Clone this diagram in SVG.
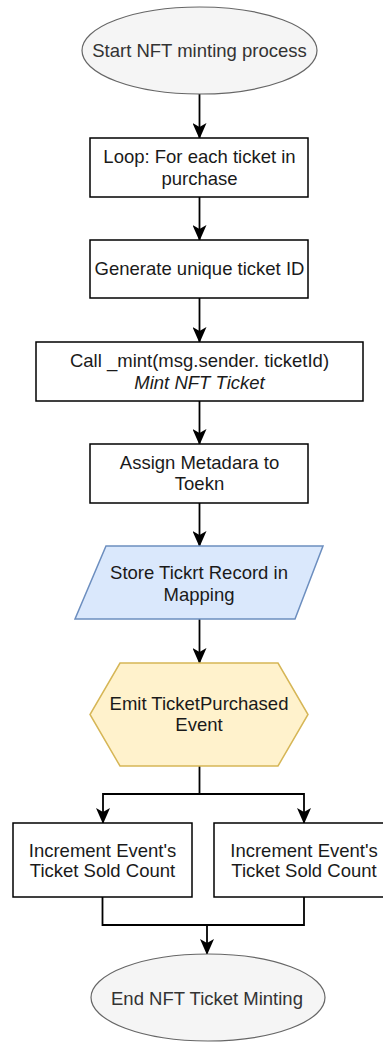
<svg xmlns="http://www.w3.org/2000/svg" width="383" height="1042" viewBox="0 0 383 1042">
<defs>
<style>
.box{fill:#ffffff;stroke:#000000;stroke-width:1.5}
.term{fill:#f5f5f5;stroke:#666666;stroke-width:1.2}
.io{fill:#dae8fc;stroke:#6c8ebf;stroke-width:1.5}
.hex{fill:#fff2cc;stroke:#d6b656;stroke-width:1.5}
.t{font-family:"Liberation Sans",Arial,sans-serif;font-size:18.5px;fill:#1a1a1a;text-anchor:middle}
.tg{fill:#333333}
.it{font-style:italic}
.edge{fill:none;stroke:#000000;stroke-width:1.8}
</style>
<marker id="arr" viewBox="0 0 16 14" refX="15" refY="7" markerWidth="16" markerHeight="14" markerUnits="userSpaceOnUse" orient="auto">
<path d="M0,0 L16,7 L0,14 L4,7 Z" fill="#000000"/>
</marker>
</defs>
<g id="connectors">
<path class="edge" d="M199.5,94 V138" marker-end="url(#arr)"/>
<path class="edge" d="M199.5,197 V240" marker-end="url(#arr)"/>
<path class="edge" d="M199.5,298 V342" marker-end="url(#arr)"/>
<path class="edge" d="M199.5,401 V444" marker-end="url(#arr)"/>
<path class="edge" d="M199.5,503 V546" marker-end="url(#arr)"/>
<path class="edge" d="M199.5,619 V663" marker-end="url(#arr)"/>
<path class="edge" d="M199.5,766 V794 H103 V823" marker-end="url(#arr)"/>
<path class="edge" d="M199.5,794 H304 V823" marker-end="url(#arr)"/>
<path class="edge" d="M102.5,897 V925 H304 V897"/>
<path class="edge" d="M207,925 V954" marker-end="url(#arr)"/>
</g>
<g id="start">
<ellipse class="term" cx="199.5" cy="50.5" rx="117.5" ry="43.5"/>
<text class="t tg" x="199.5" y="57">Start NFT minting process</text>
</g>
<g id="loop">
<rect class="box" x="90" y="138" width="218" height="59"/>
<text class="t" x="199.5" y="163">Loop: For each ticket in</text>
<text class="t" x="199.5" y="185">purchase</text>
</g>
<g id="generate">
<rect class="box" x="90" y="240" width="218" height="58"/>
<text class="t" x="199.5" y="274.5">Generate unique ticket ID</text>
</g>
<g id="mint">
<rect class="box" x="36" y="342" width="327" height="59"/>
<text class="t" x="199.5" y="366.5">Call _mint(msg.sender. ticketId)</text>
<text class="t it" x="199.5" y="388.5">Mint NFT Ticket</text>
</g>
<g id="metadata">
<rect class="box" x="90" y="444" width="218" height="59"/>
<text class="t" x="199.5" y="468.5">Assign Metadara to</text>
<text class="t" x="199.5" y="490">Toekn</text>
</g>
<g id="store">
<polygon class="io" points="106,546 323,546 295,619 75,619"/>
<text class="t" x="199" y="578.5">Store Tickrt Record in</text>
<text class="t" x="199" y="600.5">Mapping</text>
</g>
<g id="emit">
<polygon class="hex" points="120,663 278,663 308,714.5 278,766 120,766 90,714.5"/>
<text class="t" x="199" y="709.5">Emit TicketPurchased</text>
<text class="t" x="199" y="730.5">Event</text>
</g>
<g id="incLeft">
<rect class="box" x="13" y="823" width="179" height="74"/>
<text class="t" x="102.5" y="856.5">Increment Event's</text>
<text class="t" x="102.5" y="877">Ticket Sold Count</text>
</g>
<g id="incRight">
<rect class="box" x="214" y="823" width="179" height="74"/>
<text class="t" x="304" y="856.5">Increment Event's</text>
<text class="t" x="304" y="877">Ticket Sold Count</text>
</g>
<g id="end">
<ellipse class="term" cx="208" cy="997.5" rx="117" ry="43.5"/>
<text class="t tg" x="207" y="1004.5">End NFT Ticket Minting</text>
</g>
</svg>
